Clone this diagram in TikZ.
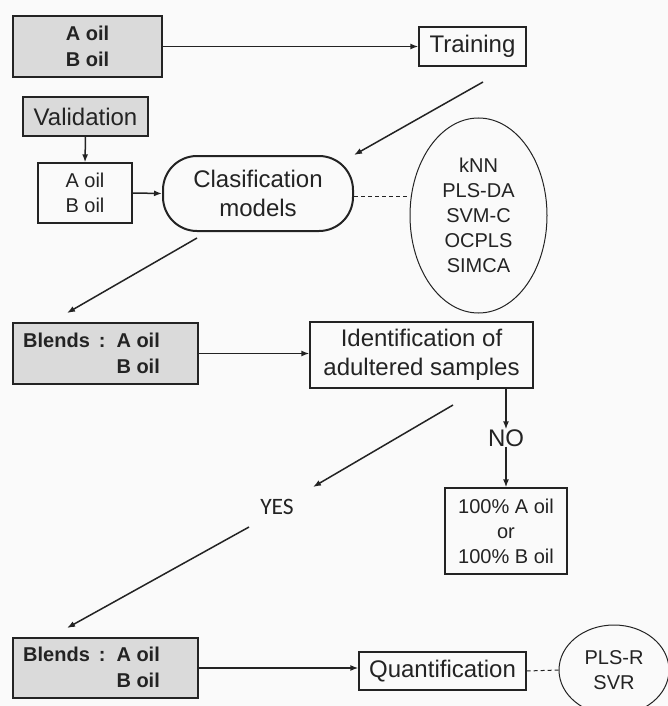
\documentclass[tikz,border=0pt]{standalone}
\usepackage{fontspec}
\setmainfont{Liberation Sans}
\newfontfamily\yesfont{Carlito}
\usetikzlibrary{shapes.geometric,arrows.meta,calc}
\definecolor{ink}{RGB}{35,35,35}
\definecolor{boxfill}{RGB}{218,218,218}
\definecolor{bg}{RGB}{250,250,250}
\tikzset{
  box/.style={draw=ink, line width=1.3pt, inner sep=0pt, text=ink, align=center},
  graybox/.style={box, fill=boxfill},
  arr/.style={draw=ink, line width=1.5pt, -{Latex[length=8pt,width=6pt]}},
  dashline/.style={draw=ink, line width=1pt, dash pattern=on 4pt off 3pt},
  fbig/.style={font=\fontsize{24}{29}\selectfont},
  fmid/.style={font=\fontsize{20}{25}\selectfont},
  fbold/.style={font=\fontsize{20}{26}\selectfont\bfseries},
}
\begin{document}
\begin{tikzpicture}[x=1pt,y=-1pt]
\useasboundingbox (0,0) rectangle (668,706);
\clip (0,0) rectangle (668,706);
\fill[bg] (0,0) rectangle (668,706);

% nodes
\node[graybox, fbold, minimum width=149, minimum height=61] (top) at (87.5,46.5) {A oil\\B oil};
\node[box, fbig, minimum width=107, minimum height=39] (training) at (472.5,46.5) {Training};
\node[graybox, fbig, minimum width=125, minimum height=39] (valid) at (85.5,116.5) {Validation};
\node[box, fmid, minimum width=94, minimum height=60] (abox) at (85,193) {A oil\\B oil};
\node[box, fbig, line width=2pt, minimum width=190, minimum height=75, rounded corners=34pt] (clas) at (258,193.5) {Clasification\\models};
\node[ellipse, draw=ink, line width=1pt, inner sep=0pt, text=ink, align=center, fmid, minimum width=137, minimum height=195] (ell1) at (478.5,215.5) {kNN\\PLS-DA\\SVM-C\\OCPLS\\SIMCA};

\node[graybox, minimum width=185, minimum height=61] (blends1) at (105.5,353.5) {};
\node[anchor=west, inner sep=0pt, text=ink, fbold] (b1text) at (23,355.5) {\begin{tabular}{@{}l@{\hspace{11pt}}l@{}}Blends\hspace{9pt}:&A oil\\&B oil\end{tabular}};
\node[box, fbig, minimum width=223, minimum height=66] (ident) at (421.5,355) {Identification of\\adultered samples};
\node[text=ink, fbig, inner sep=0pt] (no) at (506,438) {NO};
\node[box, fmid, minimum width=122, minimum height=86] (hundred) at (506,531) {100\% A oil\\or\\100\% B oil};
\node[text=ink, inner sep=0pt, font=\yesfont\fontsize{23.5}{28}\selectfont] (yes) at (277,507) {YES};

\node[graybox, minimum width=185, minimum height=60] (blends2) at (105.5,668) {};
\node[anchor=west, inner sep=0pt, text=ink, fbold] (b2text) at (23,669) {\begin{tabular}{@{}l@{\hspace{11pt}}l@{}}Blends\hspace{9pt}:&A oil\\&B oil\end{tabular}};
\node[box, fbig, minimum width=167, minimum height=38] (quant) at (442.5,671) {Quantification};
\node[ellipse, draw=ink, line width=1pt, inner sep=0pt, text=ink, align=center, fmid, minimum width=110, minimum height=90] (ell2) at (614,670) {PLS-R\\SVR};

% free ends
\coordinate (t1) at (483,82);
\coordinate (c1) at (197,238);
\coordinate (b1) at (67,313);
\coordinate (i1) at (453,405);
\coordinate (y1) at (313,487);
\coordinate (y2) at (249,527);
\coordinate (b2) at (67,628);

% connectors
\draw[arr] (top.east) -- (training.west);
\draw[arr] (t1) -- (clas.north east);
\draw[arr] (valid.south) -- (abox.north);
\draw[arr] (abox.east) -- (clas.west);
\draw[dashline] ($(clas.east)+(0,2.5)$) -- (410,196);
\draw[arr] (c1) -- (b1);
\draw[arr] (blends1.east) -- (blends1.east -| ident.west);
\draw[arr] (ident.south -| no) -- (no.north);
\draw[arr] (no.south) -- (hundred.north);
\draw[arr] (i1) -- (y1);
\draw[arr] (y2) -- (b2);
\draw[arr] (blends2.east) -- (blends2.east -| quant.west);
\draw[dashline] (quant.east) -- (ell2.west);
\end{tikzpicture}
\end{document}
